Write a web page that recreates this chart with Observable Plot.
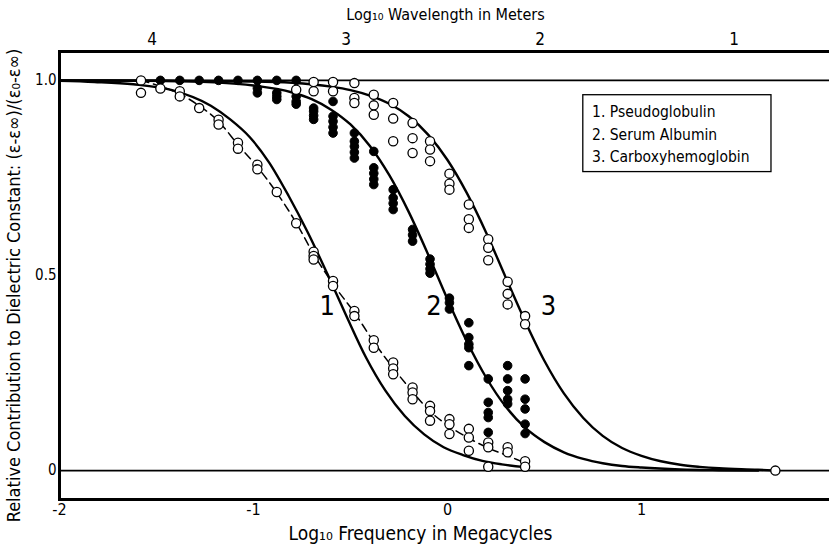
<!DOCTYPE html>
<html>
<head>
<meta charset="utf-8">
<script src="https://cdn.jsdelivr.net/npm/d3@7"></script>
<script src="https://cdn.jsdelivr.net/npm/@observablehq/plot@0.6"></script>
<style>
  html, body { margin: 0; padding: 0; background: white; }
</style>
</head>
<body>
<div id="chart"></div>
<script>
// ---------- axes ----------
const xTicks = [-2, -1, 0, 1, 2];
const yTicks = [0, 0.5, 1];
const yTickLabels = ["0", "0.5", "1.0"];
const wavelengthTicks = [4, 3, 2, 1];           // log10 wavelength in metres
const log10C = 2.4768;                           // log10(c / 1 MHz) in metres
const xTitle = "Log\u2081\u2080 Frequency in Megacycles";
const topTitle = "Log\u2081\u2080 Wavelength in Meters";
const yTitle = "Relative Contribution to Dielectric Constant: (\u03B5-\u03B5\u221E)/(\u03B5\u2080-\u03B5\u221E)";

// ---------- legend / curve labels ----------
const seriesNames = ["1. Pseudoglobulin", "2. Serum Albumin", "3. Carboxyhemoglobin"];
const curveLabels = ["1", "2", "3"];
const curveLabelX = [-0.62, -0.07, 0.52];
const curveLabelY = [0.42, 0.42, 0.42];

// ---------- measured points ----------
// 1. Pseudoglobulin (open circles, dashed curve)
const pseudoglobulin = [
  [-1.58, 1.0], [-1.58, 0.968], [-1.48, 0.979], [-1.38, 0.972], [-1.38, 0.959],
  [-1.28, 0.929], [-1.18, 0.899], [-1.18, 0.887], [-1.08, 0.840], [-1.08, 0.825],
  [-0.98, 0.784], [-0.98, 0.772], [-0.88, 0.714], [-0.78, 0.634],
  [-0.69, 0.561], [-0.69, 0.550], [-0.69, 0.541], [-0.59, 0.486], [-0.59, 0.473],
  [-0.48, 0.409], [-0.48, 0.396], [-0.38, 0.334], [-0.38, 0.315],
  [-0.28, 0.277], [-0.28, 0.262], [-0.28, 0.247], [-0.18, 0.213], [-0.18, 0.200], [-0.18, 0.183],
  [-0.09, 0.166], [-0.09, 0.153], [-0.09, 0.128], [0.01, 0.132], [0.01, 0.119], [0.01, 0.094],
  [0.11, 0.107], [0.11, 0.085], [0.11, 0.051], [0.21, 0.072], [0.21, 0.060], [0.21, 0.010],
  [0.31, 0.060], [0.31, 0.047], [0.40, 0.024], [0.40, 0.010]
];
// 2. Serum albumin (filled circles)
const serumAlbumin = [
  [-1.48, 1.0], [-1.38, 1.0], [-1.28, 1.0], [-1.18, 1.0], [-1.08, 1.0],
  [-0.98, 1.0], [-0.98, 0.980], [-0.98, 0.968],
  [-0.88, 1.0], [-0.88, 0.968], [-0.88, 0.959], [-0.88, 0.951],
  [-0.78, 1.0], [-0.78, 0.959], [-0.78, 0.946], [-0.78, 0.939],
  [-0.69, 0.929], [-0.69, 0.921], [-0.69, 0.910], [-0.69, 0.900],
  [-0.59, 0.946], [-0.59, 0.908], [-0.59, 0.895], [-0.59, 0.880], [-0.59, 0.865],
  [-0.48, 0.865], [-0.48, 0.844], [-0.48, 0.831], [-0.48, 0.816], [-0.48, 0.801],
  [-0.38, 0.818], [-0.38, 0.776], [-0.38, 0.762], [-0.38, 0.747], [-0.38, 0.733],
  [-0.28, 0.720], [-0.28, 0.699], [-0.28, 0.685], [-0.28, 0.669],
  [-0.18, 0.618], [-0.18, 0.604], [-0.18, 0.588],
  [-0.09, 0.542], [-0.09, 0.529], [-0.09, 0.517], [-0.09, 0.506],
  [0.01, 0.442], [0.01, 0.430], [0.01, 0.414],
  [0.11, 0.379], [0.11, 0.341], [0.11, 0.324], [0.11, 0.315], [0.11, 0.269],
  [0.21, 0.235], [0.21, 0.175], [0.21, 0.149], [0.21, 0.136], [0.21, 0.098],
  [0.31, 0.269], [0.31, 0.235], [0.31, 0.205], [0.31, 0.183], [0.31, 0.171],
  [0.40, 0.235], [0.40, 0.183], [0.40, 0.158], [0.40, 0.119], [0.40, 0.095]
];
// 3. Carboxyhemoglobin (open circles)
const carboxyhemoglobin = [
  [-0.78, 0.976], [-0.69, 0.996], [-0.69, 0.972], [-0.59, 0.996], [-0.59, 0.972],
  [-0.48, 0.993], [-0.48, 0.955], [-0.48, 0.942],
  [-0.38, 0.963], [-0.38, 0.936], [-0.38, 0.912],
  [-0.28, 0.942], [-0.28, 0.902], [-0.28, 0.844],
  [-0.18, 0.891], [-0.18, 0.852], [-0.18, 0.814],
  [-0.09, 0.844], [-0.09, 0.823], [-0.09, 0.793],
  [0.01, 0.761], [0.01, 0.735], [0.01, 0.720],
  [0.11, 0.682], [0.11, 0.644], [0.11, 0.622],
  [0.21, 0.593], [0.21, 0.571], [0.21, 0.539],
  [0.31, 0.484], [0.31, 0.453], [0.31, 0.426],
  [0.40, 0.396], [0.40, 0.375],
  [1.69, 0.0]
];

// ---------- drawn curves ----------
const curve1Solid = [
  [-2.0, 0.999], [-1.82, 0.996], [-1.62, 0.99], [-1.42, 0.975], [-1.22, 0.935],
  [-1.12, 0.90], [-1.02, 0.855], [-0.92, 0.79], [-0.82, 0.705], [-0.72, 0.61],
  [-0.62, 0.505], [-0.52, 0.395], [-0.42, 0.29], [-0.32, 0.205], [-0.22, 0.14],
  [-0.12, 0.093], [-0.02, 0.06], [0.08, 0.04], [0.18, 0.025], [0.28, 0.016], [0.40, 0.009]
];
const curve1Dashed = [
  [-1.58, 1.0], [-1.48, 0.985], [-1.38, 0.965], [-1.28, 0.935], [-1.18, 0.895],
  [-1.08, 0.835], [-0.98, 0.778], [-0.88, 0.712], [-0.78, 0.635], [-0.69, 0.555],
  [-0.59, 0.478], [-0.48, 0.405], [-0.38, 0.330], [-0.28, 0.263], [-0.18, 0.202],
  [-0.09, 0.152], [0.01, 0.113], [0.11, 0.083], [0.21, 0.058], [0.31, 0.038], [0.40, 0.020]
];
const curve2 = [
  [-2.0, 1.0], [-1.5, 0.999], [-1.2, 0.995], [-1.0, 0.987], [-0.8, 0.969], [-0.7, 0.952],
  [-0.6, 0.925], [-0.5, 0.887], [-0.4, 0.832], [-0.3, 0.757], [-0.2, 0.663], [-0.1, 0.554],
  [0.0, 0.439], [0.1, 0.331], [0.2, 0.238], [0.3, 0.164], [0.4, 0.110], [0.5, 0.073],
  [0.6, 0.047], [0.7, 0.030], [0.8, 0.019], [0.9, 0.012], [1.0, 0.008], [1.2, 0.003],
  [1.4, 0.001], [1.6, 0.0]
];
const curve3 = [
  [-2.0, 1.0], [-1.0, 0.997], [-0.8, 0.994], [-0.6, 0.984], [-0.5, 0.975], [-0.4, 0.961],
  [-0.3, 0.940], [-0.2, 0.908], [-0.1, 0.861], [0.0, 0.796], [0.1, 0.711], [0.2, 0.609],
  [0.3, 0.495], [0.4, 0.383], [0.5, 0.281], [0.6, 0.198], [0.7, 0.135], [0.8, 0.089],
  [0.9, 0.058], [1.0, 0.038], [1.1, 0.024], [1.2, 0.015], [1.3, 0.0097], [1.4, 0.006],
  [1.6, 0.0025], [1.7, 0.0]
];

// ---------- legend box (data units) ----------
const legendX = [0.70, 1.67];
const legendY = [0.765, 0.962];
const legendRowY = [0.918, 0.861, 0.804];
const legendTextX = 0.745;

// ---------- build ----------
const FONT = "'DejaVu Sans Condensed', 'Liberation Sans Narrow', 'DejaVu Sans', sans-serif";
const wavePos = wavelengthTicks.map(w => log10C - w);
const waveLabel = new Map(wavePos.map((p, i) => [p, String(wavelengthTicks[i])]));
const yLabel = new Map(yTicks.map((t, i) => [t, yTickLabels[i]]));
const P = ([x, y]) => ({x, y});

const chart = Plot.plot({
  width: 829,
  height: 548,
  marginLeft: 59,
  marginRight: -6,
  marginTop: 51,
  marginBottom: 49,
  style: {fontFamily: FONT, fontSize: "15px", background: "white", color: "black", overflow: "visible"},
  x: {domain: [-2, 2], range: [59, 835]},
  y: {domain: [-0.074, 1.074], range: [499, 51]},
  marks: [
    Plot.ruleY([0, 1], {stroke: "black", strokeWidth: 1.6}),
    Plot.frame({stroke: "black", strokeWidth: 3}),
    Plot.line(curve1Solid.map(P), {x: "x", y: "y", curve: "monotone-x", stroke: "black", strokeWidth: 2.4}),
    Plot.line(curve2.map(P), {x: "x", y: "y", curve: "monotone-x", stroke: "black", strokeWidth: 2.4}),
    Plot.line(curve3.map(P), {x: "x", y: "y", curve: "monotone-x", stroke: "black", strokeWidth: 2.4}),
    Plot.line(curve1Dashed.map(P), {x: "x", y: "y", curve: "monotone-x", stroke: "black", strokeWidth: 1.5, strokeDasharray: "8,5"}),
    Plot.dot(serumAlbumin.map(P), {x: "x", y: "y", r: 4.3, fill: "black", stroke: "black", strokeWidth: 1}),
    Plot.dot(pseudoglobulin.map(P), {x: "x", y: "y", r: 4.6, fill: "white", stroke: "black", strokeWidth: 1.3}),
    Plot.dot(carboxyhemoglobin.map(P), {x: "x", y: "y", r: 4.6, fill: "white", stroke: "black", strokeWidth: 1.3}),
    // curve numbers
    Plot.text(curveLabels.map((t, i) => ({t, x: curveLabelX[i], y: curveLabelY[i]})),
      {x: "x", y: "y", text: "t", fontSize: 27, fill: "black"}),
    // legend
    Plot.rect([{x1: legendX[0], x2: legendX[1], y1: legendY[0], y2: legendY[1]}],
      {x1: "x1", x2: "x2", y1: "y1", y2: "y2", fill: "white", stroke: "black", strokeWidth: 1.3}),
    Plot.text(seriesNames.map((t, i) => ({t, y: legendRowY[i]})),
      {x: () => legendTextX, y: "y", text: "t", textAnchor: "start", fontSize: 15.5, fill: "black"}),
    // axes
    Plot.axisX(xTicks, {anchor: "bottom", tickSize: 0, tickPadding: 4, fontSize: 16, label: null,
      tickFormat: d => (d < 0 ? "-" + Math.abs(d) : String(d))}),
    Plot.axisX(wavePos, {anchor: "top", tickSize: 0, tickPadding: 7, fontSize: 17, label: null,
      tickFormat: d => waveLabel.get(d)}),
    Plot.axisY(yTicks, {anchor: "left", tickSize: 0, tickPadding: 3, fontSize: 15, label: null,
      tickFormat: d => yLabel.get(d)}),
    // titles
    Plot.text([xTitle], {frameAnchor: "bottom", textAnchor: "middle", lineAnchor: "middle", dy: 34, dx: -27, fontSize: 19, fill: "black"}),
    Plot.text([topTitle], {frameAnchor: "top", textAnchor: "middle", lineAnchor: "middle", dy: -37, dx: -2, fontSize: 16, fill: "black"}),
    Plot.text([yTitle], {frameAnchor: "left", textAnchor: "middle", lineAnchor: "middle", dx: -45, dy: 10, rotate: -90, fontSize: 18, fill: "black"})
  ]
});
document.getElementById("chart").appendChild(chart);
</script>
</body>
</html>
